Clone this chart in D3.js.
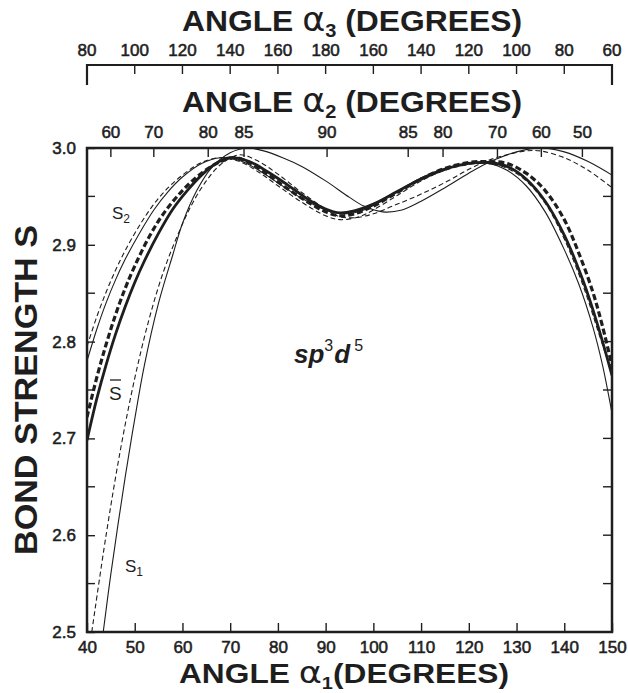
<!DOCTYPE html>
<html>
<head>
<meta charset="utf-8">
<script src="https://cdn.jsdelivr.net/npm/d3@7"></script>
<style>
  body { margin: 0; background: #fff; }
  text { fill: #1e1e1e; font-family: "Liberation Sans", Arial, sans-serif; }
</style>
</head>
<body>
<div id="chart"></div>
<script>
// bottom axis (alpha 1) and left axis (bond strength)
const alpha1Ticks = [40, 50, 60, 70, 80, 90, 100, 110, 120, 130, 140, 150]
const strengthTicks = [2.5, 2.6, 2.7, 2.8, 2.9, 3.0]
const strengthMinor = [2.55, 2.65, 2.75, 2.85, 2.95]

// top axes: label text and where it sits on the alpha 1 scale
const alpha2Labels = ["60", "70", "80", "85", "90", "85", "80", "70", "60", "50"]
const alpha2AtAlpha1 = [45.0, 54.0, 65.4, 72.9, 90.3, 107.3, 114.6, 126.0, 135.2, 143.8]
const alpha3Labels = ["80", "100", "120", "140", "160", "180", "160", "140", "120", "100", "80", "60"]
const alpha3AtAlpha1 = [40, 50, 60, 70, 80, 90, 100, 110, 120, 130, 140, 150]

// curves: [alpha1, S]
const s1Solid = [[43.4,2.50],[45,2.56],[48,2.66],[50,2.72],[52,2.775],[55,2.84],[58,2.89],[60,2.922],
  [63,2.956],[66,2.979],[70,2.995],[73.5,3.0],[77,2.997],[81,2.99],[85,2.981],[90,2.966],[95,2.949],
  [98,2.94],[102,2.934],[106,2.936],[110,2.945],[115,2.959],[120,2.974],[125,2.987],[130,2.996],
  [135,3.0],[140,2.996],[145,2.986],[150,2.972]]
const s1Dashed = [[41,2.50],[44,2.60],[47,2.688],[50,2.762],[53,2.823],[56,2.872],[59,2.91],[62,2.942],
  [65,2.966],[68,2.983],[72,2.993],[76,2.986],[80,2.973],[85,2.954],[90,2.937],[93,2.929],[96,2.928],
  [100,2.932],[104,2.94],[108,2.948],[112,2.957],[116,2.967],[120,2.978],[124,2.987],[128,2.993],
  [132,2.997],[135,2.997],[140,2.99],[145,2.977],[150,2.959]]
const s2Solid = [[40,2.78],[42,2.812],[44,2.84],[46,2.864],[48,2.885],[51,2.912],[54,2.936],[57,2.955],
  [60,2.97],[64,2.984],[68,2.99],[72,2.987],[76,2.977],[80,2.964],[85,2.948],[90,2.936],[94,2.932],
  [98,2.936],[102,2.946],[106,2.958],[110,2.969],[115,2.979],[120,2.984],[124,2.984],[128,2.977],
  [132,2.961],[136,2.934],[140,2.895],[143,2.86],[146,2.815],[148,2.776],[150,2.726]]
const s2Dashed = [[40,2.795],[42,2.825],[44,2.851],[46,2.874],[48,2.894],[51,2.92],[54,2.942],[57,2.959],
  [60,2.972],[64,2.985],[68,2.99],[72,2.986],[76,2.975],[80,2.961],[85,2.944],[90,2.93],[93,2.926],
  [97,2.929],[100,2.936],[105,2.951],[110,2.966],[115,2.977],[120,2.983],[124,2.984],[128,2.979],
  [132,2.966],[136,2.943],[140,2.906],[144,2.857],[147,2.812],[150,2.767]]
const sBarSolid = [[40,2.698],[42,2.74],[44,2.776],[46,2.808],[48,2.836],[50,2.861],[52,2.883],[55,2.912],
  [58,2.937],[61,2.956],[64,2.972],[67,2.984],[70,2.99],[74,2.986],[78,2.975],[82,2.962],[86,2.948],
  [90,2.937],[93,2.933],[96,2.935],[100,2.942],[105,2.955],[110,2.968],[115,2.978],[120,2.984],
  [124,2.985],[128,2.981],[132,2.968],[136,2.945],[140,2.91],[144,2.862],[147,2.817],[150,2.765]]
const sBarDashed = [[40,2.722],[42,2.762],[44,2.797],[46,2.828],[48,2.855],[50,2.878],[53,2.908],[56,2.932],
  [60,2.956],[64,2.974],[68,2.986],[71,2.99],[74,2.985],[78,2.972],[82,2.958],[86,2.945],[90,2.934],
  [93,2.93],[96,2.932],[100,2.94],[105,2.954],[110,2.968],[115,2.979],[120,2.985],[124,2.986],
  [128,2.984],[132,2.974],[136,2.956],[140,2.926],[143,2.892],[146,2.851],[148,2.816],[150,2.775]]

var width = 628, height = 693
var plotL = 87, plotR = 612, plotT = 148, plotB = 632

var svg = d3.select("#chart").append("svg")
    .attr("width", width)
    .attr("height", height)

const x = d3.scaleLinear().domain([40, 150]).range([plotL, plotR])
const y = d3.scaleLinear().domain([2.5, 3.0]).range([plotB, plotT])

const ink = "#1e1e1e"
const numStroke = 0.55
const titleFont = "'Liberation Sans Narrow', 'DejaVu Sans Condensed', 'Liberation Sans', sans-serif"

// clip so the S1 curves stop at the frame
svg.append("clipPath").attr("id", "plot")
    .append("rect").attr("x", plotL).attr("y", plotT)
    .attr("width", plotR - plotL).attr("height", plotB - plotT)

const line = d3.line()
    .x(d => x(d[0]))
    .y(d => y(d[1]))
    .curve(d3.curveCatmullRom.alpha(0.5))

const curves = [
    {data: s1Solid, w: 1.1, dash: null},
    {data: s1Dashed, w: 1.1, dash: "5,3"},
    {data: s2Solid, w: 1.1, dash: null},
    {data: s2Dashed, w: 1.1, dash: "5,3"},
    {data: sBarSolid, w: 2.8, dash: null},
    {data: sBarDashed, w: 3.2, dash: "6,3"}
]

svg.append("g")
    .attr("clip-path", "url(#plot)")
    .selectAll("path")
    .data(curves)
    .enter()
    .append("path")
    .attr("d", d => line(d.data))
    .attr("fill", "none")
    .attr("stroke", ink)
    .attr("stroke-width", d => d.w)
    .attr("stroke-dasharray", d => d.dash)

// bottom axis, ticks pointing in
const xAxis = svg.append("g")
    .attr("transform", "translate(0," + plotB + ")")
    .call(d3.axisBottom(x).tickValues(alpha1Ticks).tickSize(-9).tickPadding(9).tickFormat(d3.format("d")))
xAxis.select(".domain").remove()
xAxis.selectAll("line").attr("stroke", ink).attr("stroke-width", 1.4)
xAxis.selectAll("text").attr("font-size", 17).attr("stroke", ink).attr("stroke-width", numStroke)
    .attr("font-family", "Liberation Sans").attr("fill", ink)

// left axis
const yAxis = svg.append("g")
    .attr("transform", "translate(" + plotL + ",0)")
    .call(d3.axisLeft(y).tickValues(strengthTicks).tickSize(-8).tickPadding(11).tickFormat(d3.format(".1f")))
yAxis.select(".domain").remove()
yAxis.selectAll("line").attr("stroke", ink).attr("stroke-width", 1.4)
yAxis.selectAll("text").attr("font-size", 17).attr("stroke", ink).attr("stroke-width", numStroke)
    .attr("font-family", "Liberation Sans").attr("fill", ink)

svg.append("g").selectAll("line")
    .data(strengthMinor)
    .enter()
    .append("line")
    .attr("x1", plotL).attr("x2", plotL + 8)
    .attr("y1", d => y(d)).attr("y2", d => y(d))
    .attr("stroke", ink).attr("stroke-width", 1.4)

// right side ticks
svg.append("g").selectAll("line")
    .data(strengthTicks.concat(strengthMinor))
    .enter()
    .append("line")
    .attr("x1", plotR).attr("x2", plotR - 9)
    .attr("y1", d => y(d)).attr("y2", d => y(d))
    .attr("stroke", ink).attr("stroke-width", 1.4)

// alpha 2 ticks on top of the frame
svg.append("g").selectAll("line")
    .data(alpha2AtAlpha1)
    .enter()
    .append("line")
    .attr("x1", d => x(d)).attr("x2", d => x(d))
    .attr("y1", plotT).attr("y2", plotT + 9)
    .attr("stroke", ink).attr("stroke-width", 1.4)

svg.append("g").selectAll("text")
    .data(alpha2Labels)
    .enter()
    .append("text")
    .attr("x", (d, i) => x(alpha2AtAlpha1[i]))
    .attr("y", plotT - 10)
    .attr("text-anchor", "middle")
    .attr("font-size", 17)
    .attr("stroke", ink).attr("stroke-width", numStroke)
    .text(d => d)

// frame
svg.append("rect")
    .attr("x", plotL).attr("y", plotT)
    .attr("width", plotR - plotL).attr("height", plotB - plotT)
    .attr("fill", "none")
    .attr("stroke", ink)
    .attr("stroke-width", 2.5)

// alpha 3 bracket axis
const bracketY = 65
svg.append("path")
    .attr("d", "M" + plotL + "," + (bracketY + 20) + "V" + bracketY + "H" + plotR + "V" + (bracketY + 20))
    .attr("fill", "none").attr("stroke", ink).attr("stroke-width", 2.2)

svg.append("g").selectAll("line")
    .data(alpha3AtAlpha1.slice(1, -1))
    .enter()
    .append("line")
    .attr("x1", d => x(d)).attr("x2", d => x(d))
    .attr("y1", bracketY).attr("y2", bracketY + 9)
    .attr("stroke", ink).attr("stroke-width", 1.4)

svg.append("g").selectAll("text")
    .data(alpha3Labels)
    .enter()
    .append("text")
    .attr("x", (d, i) => x(alpha3AtAlpha1[i]))
    .attr("y", bracketY - 9)
    .attr("text-anchor", "middle")
    .attr("font-size", 17)
    .attr("stroke", ink).attr("stroke-width", numStroke)
    .text(d => d)

// axis titles
function angleTitle(sub, cx, by, len, fs) {
    var t = svg.append("text")
        .attr("x", cx).attr("y", by)
        .attr("text-anchor", "middle")
        .attr("font-family", titleFont)
        .attr("font-weight", "bold")
        .attr("font-size", fs)
        .attr("textLength", len)
        .attr("lengthAdjust", "spacingAndGlyphs")
    t.append("tspan").text("ANGLE ")
    t.append("tspan").attr("font-weight", "normal").attr("font-family", "'DejaVu Sans', sans-serif")
        .attr("font-size", fs + 3).text("α")
    t.append("tspan").attr("font-size", fs * 0.63).attr("dy", 6).text(sub)
    t.append("tspan").attr("dy", -6).text(sub == "1" ? "(DEGREES)" : " (DEGREES)")
}
angleTitle("3", 352, 31, 340, 30)
angleTitle("2", 352, 112, 340, 30)
angleTitle("1", 344, 683, 330, 27)

svg.append("text")
    .attr("transform", "translate(37,390) rotate(-90)")
    .attr("text-anchor", "middle")
    .attr("font-family", titleFont)
    .attr("font-weight", "bold")
    .attr("font-size", 31)
    .attr("textLength", 330)
    .attr("lengthAdjust", "spacingAndGlyphs")
    .text("BOND  STRENGTH  S")

// curve labels
function seriesLabel(sx, sy, sub) {
    var t = svg.append("text").attr("x", sx).attr("y", sy).attr("font-size", 17)
    t.append("tspan").text("S")
    t.append("tspan").attr("font-size", 12).attr("dy", 4).text(sub)
}
seriesLabel(112, 219, "2")
seriesLabel(125, 572, "1")

svg.append("text").attr("x", 109).attr("y", 400).attr("font-size", 19).text("S")
svg.append("line")
    .attr("x1", 110).attr("x2", 121).attr("y1", 380).attr("y2", 380)
    .attr("stroke", ink).attr("stroke-width", 1.3)

// hybrid label
var hyb = svg.append("text")
    .attr("x", 294).attr("y", 363)
    .attr("font-size", 26)
    .attr("font-weight", "bold")
    .attr("font-style", "italic")
hyb.append("tspan").text("sp")
hyb.append("tspan").attr("font-size", 16).attr("font-weight", "normal").attr("font-style", "normal")
    .attr("dy", -12).text("3")
hyb.append("tspan").attr("dy", 12).attr("dx", 1).text("d")
hyb.append("tspan").attr("font-size", 16).attr("font-weight", "normal").attr("font-style", "normal")
    .attr("dy", -12).attr("dx", 4).text("5")
</script>
</body>
</html>
